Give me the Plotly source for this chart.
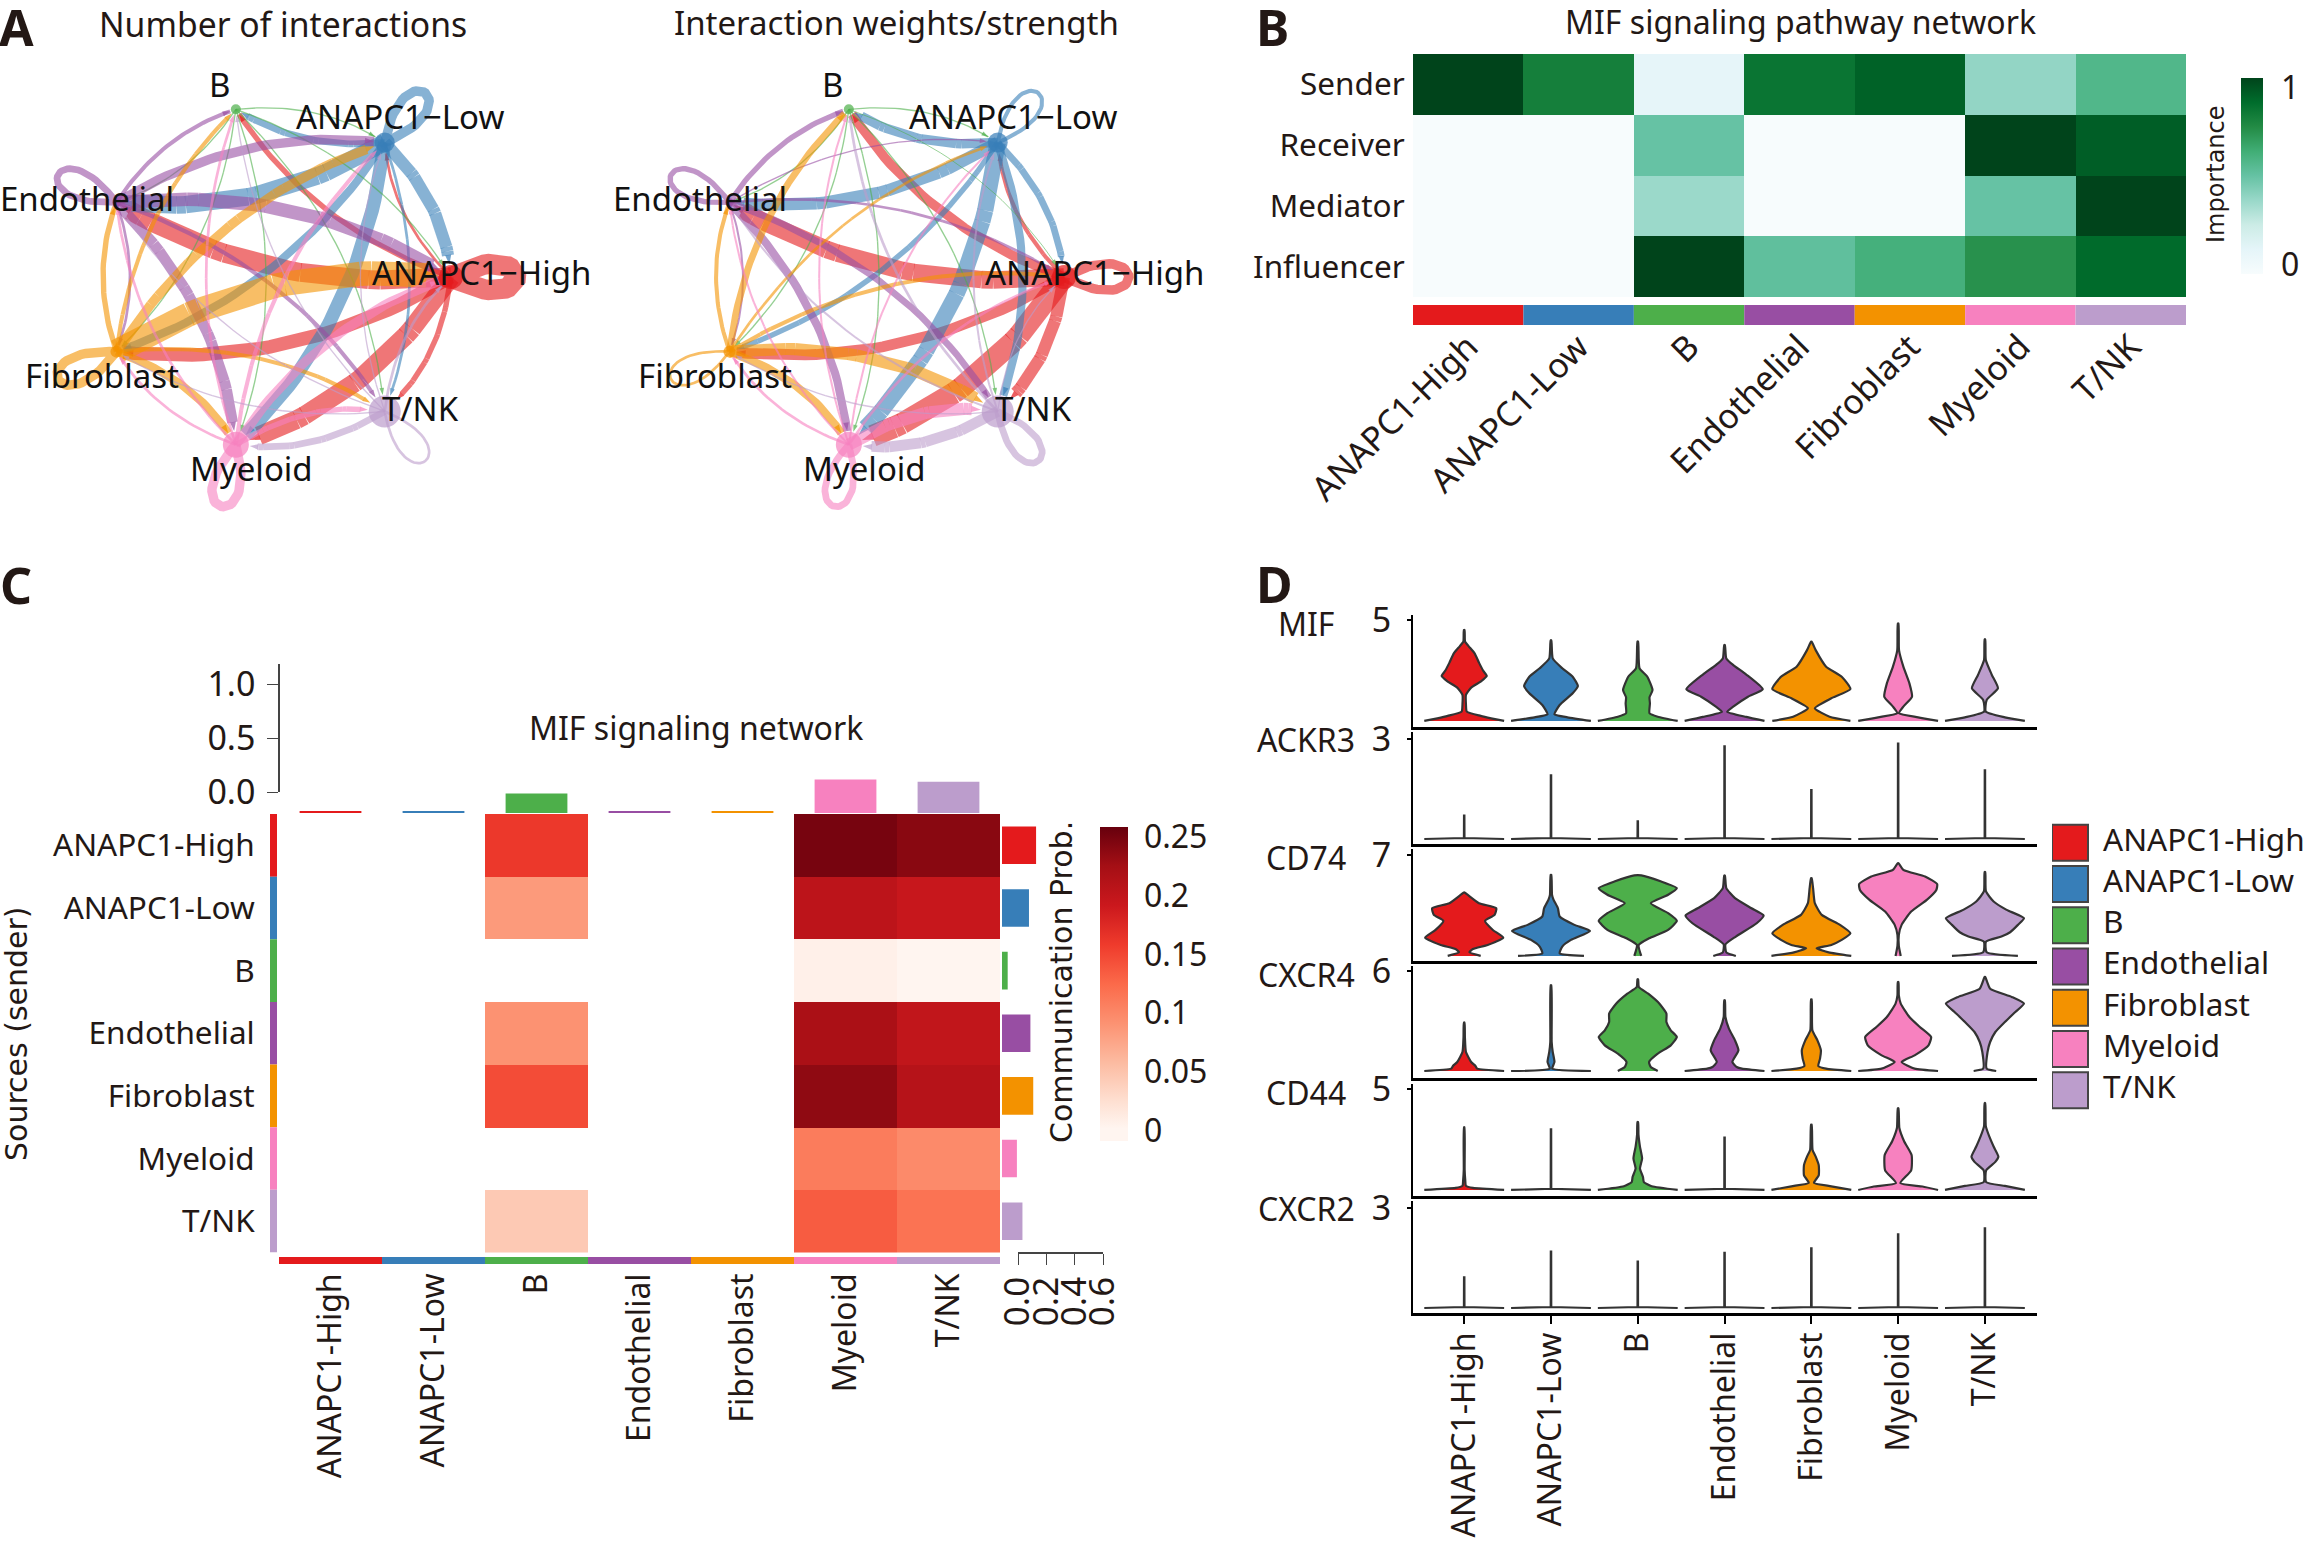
import math
import plotly.graph_objects as go

W, H = 2306, 1542
CELL_TYPES = ["ANAPC1-High", "ANAPC1-Low", "B", "Endothelial", "Fibroblast", "Myeloid", "T/NK"]
CELL_COLORS = ["#E41A1C", "#377EB8", "#4DAF4A", "#984EA3", "#F39200", "#F781BF", "#BC9DCC"]
NET_LABELS = ["ANAPC1\u2212High", "ANAPC1\u2212Low", "B", "Endothelial", "Fibroblast", "Myeloid", "T/NK"]

# Panel A: edge weight matrices (row = sender, column = receiver)
INTERACTION_COUNT = [
    [15, 2, 4, 14, 10, 14, 4],
    [9, 7, 5, 13, 6, 10, 2],
    [1, 1, 0, 1, 1, 1, 1],
    [10, 7, 3, 5, 2, 8, 3],
    [18, 7, 3, 4, 7, 6, 3],
    [7, 3, 2, 2, 2, 7, 4],
    [2, 1, 1, 1, 1, 5, 2],
]
INTERACTION_STRENGTH = [
    [7, 3, 7, 13, 8, 16, 9],
    [5, 3, 7, 9, 4, 12, 6],
    [0.7, 1, 0, 1, 1, 1, 1],
    [2, 1, 4, 4, 1.5, 6, 5],
    [3, 2, 5, 3, 2, 6, 9],
    [2, 1.5, 1.5, 1.5, 2, 5, 9],
    [1, 1.5, 2, 1.5, 1, 8, 5],
]
NODE_SIZE = [24, 20, 10, 8, 12, 26, 32]

# Panel B
ROLES = ["Sender", "Receiver", "Mediator", "Influencer"]
IMPORTANCE = [
    [1.0, 0.80, 0.12, 0.84, 0.91, 0.39, 0.57],
    [0.0, 0.0, 0.50, 0.0, 0.0, 1.0, 0.92],
    [0.0, 0.0, 0.37, 0.0, 0.0, 0.50, 1.0],
    [0.0, 0.0, 1.0, 0.52, 0.61, 0.73, 0.88],
]

# Panel C
COMM_PROB = [
    [None, None, 0.161, None, None, 0.250, 0.240],
    [None, None, 0.085, None, None, 0.205, 0.195],
    [None, None, None, None, None, 0.007, 0.000],
    [None, None, 0.091, None, None, 0.220, 0.200],
    [None, None, 0.146, None, None, 0.237, 0.210],
    [None, None, None, None, None, 0.110, 0.098],
    [None, None, 0.045, None, None, 0.135, 0.117],
]
INCOMING_TOTAL = [0.015, 0.015, 0.18, 0.015, 0.015, 0.31, 0.29]
OUTGOING_TOTAL = [0.24, 0.19, 0.04, 0.20, 0.22, 0.105, 0.144]

# Panel D: violin outlines per gene, per cell type, as (expression, half width)
MIF_VIOLINS = [
    [(0,.46),(.13,.31),(.25,.19),(.46,.03),(.83,.02),(1.29,.02),(1.65,.08),(1.95,.19),(2.23,.26),(2.48,.22),(2.89,.17),(3.35,.12),(3.71,.05),(3.93,.01),(4.5,.004)],
    [(0,.46),(.18,.19),(.33,.04),(.79,.1),(1.37,.25),(1.73,.31),(2.19,.25),(2.61,.13),(3.1,.02),(4.0,.004)],
    [(0,.46),(.21,.23),(.38,.135),(.87,.14),(1.17,.135),(1.53,.17),(2.19,.11),(2.61,.02),(3.93,.004)],
    [(0,.46),(.2,.25),(.46,.03),(.71,.1),(1.2,.27),(1.57,.44),(2.3,.25),(2.77,.1),(3.1,.02),(3.76,.004)],
    [(0,.45),(.21,.21),(.63,.04),(1.12,.23),(1.58,.45),(2.19,.35),(2.69,.17),(3.51,.05),(3.93,.004)],
    [(0,.46),(.18,.23),(.38,.01),(.71,.06),(1.2,.16),(1.86,.13),(2.69,.06),(3.51,.01),(4.83,.004)],
    [(0,.46),(.18,.23),(.46,.01),(1.04,.02),(1.62,.15),(2.28,.08),(3.02,.01),(4.04,.004)],
]
ACKR3_VIOLINS = [
    [(0,.46),(.015,.3),(.03,.003),(.70,.002)],
    [(0,.46),(.015,.3),(.03,.003),(1.90,.002)],
    [(0,.46),(.015,.3),(.03,.003),(.53,.002)],
    [(0,.46),(.015,.3),(.03,.003),(2.77,.002)],
    [(0,.46),(.015,.3),(.03,.003),(1.46,.002)],
    [(0,.46),(.015,.3),(.03,.003),(2.85,.002)],
    [(0,.46),(.015,.3),(.03,.003),(2.05,.002)],
]
CD74_VIOLINS = [
    [(0,.19),(.25,.06),(.48,.1),(.76,.27),(1.27,.45),(1.8,.33),(2.43,.24),(2.84,.35),(3.3,.37),(3.65,.17),(4.39,.004)],
    [(0,.38),(.18,.1),(.65,.13),(1.11,.23),(1.73,.45),(2.15,.27),(2.73,.1),(3.3,.08),(3.88,.03),(4.23,.012),(5.61,.004)],
    [(0,.04),(.76,.01),(1.22,.13),(1.8,.35),(2.43,.45),(2.96,.35),(3.65,.15),(4.23,.35),(4.69,.45),(5.15,.27),(5.57,.04)],
    [(0,.13),(.25,.02),(.8,.01),(1.34,.13),(2.26,.37),(2.8,.45),(3.3,.31),(4.0,.12),(4.69,.02),(5.57,.004)],
    [(0,.46),(.25,.2),(.53,.06),(.76,.23),(1.11,.35),(1.57,.45),(2.15,.33),(2.84,.12),(3.65,.04),(4.69,.02),(5.38,.004)],
    [(0,.03),(.7,.008),(1.46,.008),(2.15,.04),(3.07,.15),(3.88,.33),(4.57,.44),(4.97,.45),(5.5,.31),(5.96,.06),(6.42,.004)],
    [(0,.38),(.25,.02),(.99,.012),(1.34,.19),(1.64,.29),(2.15,.38),(2.61,.45),(3.19,.25),(3.77,.1),(4.46,.012),(5.8,.004)],
]
CXCR4_VIOLINS = [
    [(0,.46),(.14,.15),(.3,.13),(.54,.08),(1.14,.02),(2.04,.008),(2.9,.004)],
    [(0,.46),(.14,.015),(.54,.04),(1.14,.02),(1.74,.008),(5.14,.004)],
    [(0,.23),(.24,.15),(.54,.13),(1.04,.23),(1.54,.38),(2.04,.45),(2.44,.38),(2.94,.33),(3.44,.33),(4.04,.25),(4.64,.12),(5.04,.012),(5.5,.004)],
    [(0,.46),(.14,.2),(.24,.14),(.54,.09),(1.24,.16),(1.84,.12),(2.54,.05),(3.24,.01),(4.24,.004)],
    [(0,.46),(.14,.17),(.3,.08),(.74,.1),(1.24,.11),(1.84,.07),(2.44,.012),(4.3,.004)],
    [(0,.46),(.14,.19),(.54,.04),(.94,.19),(1.54,.35),(2.04,.38),(2.64,.25),(3.24,.13),(4.04,.03),(4.54,.008),(5.34,.004)],
    [(0,.13),(.14,.02),(1.14,.03),(1.74,.06),(2.34,.12),(2.94,.23),(3.54,.35),(4.04,.45),(4.44,.31),(4.94,.06),(5.64,.004)],
]
CD44_VIOLINS = [
    [(0,.46),(.1,.1),(.2,.02),(.5,.012),(1.0,.005),(3.1,.003)],
    [(0,.46),(.03,.2),(.06,.003),(3.0,.002)],
    [(0,.46),(.18,.16),(.39,.07),(.64,.06),(1.06,.025),(1.56,.05),(2.15,.025),(2.74,.008),(3.36,.004)],
    [(0,.46),(.03,.2),(.06,.003),(2.6,.002)],
    [(0,.46),(.18,.23),(.35,.03),(.72,.085),(1.23,.085),(1.65,.05),(1.98,.014),(3.24,.004)],
    [(0,.46),(.17,.28),(.34,.025),(.97,.15),(1.73,.155),(2.4,.07),(3.07,.014),(4.05,.004)],
    [(0,.46),(.2,.23),(.39,.014),(.97,.014),(1.39,.12),(1.65,.155),(2.15,.1),(2.65,.05),(3.16,.01),(4.3,.004)],
]
CXCR2_VIOLINS = [
    [(0,.46),(.015,.3),(.03,.003),(.92,.002)],
    [(0,.46),(.015,.3),(.03,.003),(1.69,.002)],
    [(0,.46),(.015,.3),(.03,.003),(1.39,.002)],
    [(0,.46),(.015,.3),(.03,.003),(1.65,.002)],
    [(0,.46),(.015,.3),(.03,.003),(1.78,.002)],
    [(0,.46),(.015,.3),(.03,.003),(2.20,.002)],
    [(0,.46),(.015,.3),(.03,.003),(2.38,.002)],
]
GENES = ["MIF", "ACKR3", "CD74", "CXCR4", "CD44", "CXCR2"]
GENE_TOP_TICK = [5, 3, 7, 6, 5, 3]
GENE_RANGES = [(-.3, 5.25), (-.15, 3.2), (-.35, 7.4), (-.42, 6.3), (-.3, 5.25), (-.15, 3.2)]
GENE_VIOLINS = [MIF_VIOLINS, ACKR3_VIOLINS, CD74_VIOLINS, CXCR4_VIOLINS, CD44_VIOLINS, CXCR2_VIOLINS]

FONT = "Noto Sans"
WIDE = "DejaVu Sans"
INK = "#231815"
EDGE_SCALE = 1.35


def fx(x):
    return x / W


def fy(y):
    return 1 - y / H


def rgba(hex_color, a):
    return "rgba(%d,%d,%d,%s)" % (int(hex_color[1:3], 16), int(hex_color[3:5], 16), int(hex_color[5:7], 16), a)


fig = go.Figure()
axis_n = [0]
layout_axes = {}
annotations = []


def new_axes(x_px, y_px, xopts=None, yopts=None):
    axis_n[0] += 1
    n = axis_n[0]
    sx = "" if n == 1 else str(n)
    base = dict(visible=False, fixedrange=True, showgrid=False, zeroline=False)
    xa = dict(base, domain=[fx(x_px[0]), fx(x_px[1])], anchor="y" + sx)
    ya = dict(base, domain=[fy(y_px[1]), fy(y_px[0])], anchor="x" + sx)
    xa.update(xopts or {})
    ya.update(yopts or {})
    layout_axes["xaxis" + sx] = xa
    layout_axes["yaxis" + sx] = ya
    return "x" + sx, "y" + sx


def note(x, y, text, size=32, font=FONT, angle=0, anchor="center", bold=False, color=INK):
    annotations.append(dict(
        x=fx(x), y=fy(y), xref="paper", yref="paper", text=("<b>%s</b>" % text) if bold else text,
        showarrow=False, textangle=angle, xanchor=anchor, yanchor="middle",
        font=dict(family=font, size=size, color=color)))


# ---------- Panel A ----------
def node_xy(i):
    a = 2 * math.pi * i / 7
    return math.cos(a), math.sin(a)


def network(matrix, dx):
    RX, RY = 176.0, 172.0
    x_ref, y_ref = new_axes((dx + 5, dx + 545), (37, 517),
                            dict(range=[-270 / RX, 270 / RX]), dict(range=[-240 / RY, 240 / RY]))
    n = 7
    for s in range(n):
        for t in range(n):
            w = matrix[s][t] * EDGE_SCALE
            if w <= 0:
                continue
            col = rgba(CELL_COLORS[s], 0.6)
            sx, sy = node_xy(s)
            if s == t:
                ang = math.atan2(sy, sx)
                d, spread = 0.56, 0.5
                c1 = (sx + d * math.cos(ang + spread), sy + d * math.sin(ang + spread))
                c2 = (sx + d * math.cos(ang - spread), sy + d * math.sin(ang - spread))
                xs, ys = [], []
                for k in range(41):
                    u = k / 40
                    b0, b1, b2, b3 = (1 - u) ** 3, 3 * u * (1 - u) ** 2, 3 * u * u * (1 - u), u ** 3
                    xs.append((b0 + b3) * sx + b1 * c1[0] + b2 * c2[0])
                    ys.append((b0 + b3) * sy + b1 * c1[1] + b2 * c2[1])
                fig.add_trace(go.Scatter(x=xs, y=ys, xaxis=x_ref, yaxis=y_ref, mode="lines",
                                         line=dict(color=col, width=w), hoverinfo="skip", showlegend=False))
                continue
            tx, ty = node_xy(t)
            ex, ey = tx - sx, ty - sy
            # bend to the left of the direction of travel
            cx = (sx + tx) / 2 - ey * 0.17
            cy = (sy + ty) / 2 + ex * 0.17
            gx, gy = tx - cx, ty - cy
            gd = math.hypot(gx, gy)
            r = (NODE_SIZE[t] / 2 + 1) / RX
            qx, qy = tx - gx / gd * r, ty - gy / gd * r
            xs, ys = [], []
            steps = 30
            for k in range(steps + 1):
                u = k / steps
                xs.append((1 - u) ** 2 * sx + 2 * u * (1 - u) * cx + u * u * qx)
                ys.append((1 - u) ** 2 * sy + 2 * u * (1 - u) * cy + u * u * qy)
            fig.add_trace(go.Scatter(
                x=xs, y=ys, xaxis=x_ref, yaxis=y_ref, mode="lines+markers",
                line=dict(color=col, width=w),
                marker=dict(symbol="arrow", angleref="previous", color=CELL_COLORS[s],
                            size=[0] * steps + [7 + w * 0.25], line=dict(width=0)),
                hoverinfo="skip", showlegend=False))
    pts = [node_xy(i) for i in range(n)]
    fig.add_trace(go.Scatter(x=[p[0] for p in pts], y=[p[1] for p in pts], xaxis=x_ref, yaxis=y_ref,
                             mode="markers", marker=dict(color=CELL_COLORS, size=NODE_SIZE, line=dict(width=0)),
                             hoverinfo="skip", showlegend=False))
    shifts = [(30, -5), (15, -26), (-16, -25), (-29, -4), (-14, 24), (16, 24), (36, -3)]
    for i, lab in enumerate(NET_LABELS):
        annotations.append(dict(x=pts[i][0], y=pts[i][1], xref=x_ref, yref=y_ref, text=lab, showarrow=False,
                                xshift=shifts[i][0], yshift=-shifts[i][1],
                                font=dict(family=FONT, size=33, color="#111111")))


network(INTERACTION_COUNT, 0)
network(INTERACTION_STRENGTH, 613)
note(283, 24, "Number of interactions", 33.7)
note(896, 23, "Interaction weights/strength", 33)

# ---------- Panel B ----------
BUGN = [[0, "#F7FCFD"], [.125, "#E5F5F9"], [.25, "#CCECE6"], [.375, "#99D8C9"], [.5, "#66C2A4"],
        [.625, "#41AE76"], [.75, "#238B45"], [.875, "#006D2C"], [1, "#00441B"]]
x_ref, y_ref = new_axes((1413, 2186), (54, 297),
                        dict(type="category", range=[-.5, 6.5]),
                        dict(visible=True, type="category", range=[3.5, -.5], showline=False, ticks="outside",
                             ticklen=1, tickcolor="rgba(0,0,0,0)", tickfont=dict(family=FONT, size=31.5, color=INK)))
fig.add_trace(go.Heatmap(z=IMPORTANCE, x=CELL_TYPES, y=ROLES, xaxis=x_ref, yaxis=y_ref, zmin=0, zmax=1,
                         colorscale=BUGN, hoverinfo="skip",
                         colorbar=dict(x=fx(2241), xanchor="left", xpad=0, y=fy(274), yanchor="bottom", ypad=0,
                                       len=196 / H, thickness=22, outlinewidth=0,
                                       tickvals=[.046, .949], ticktext=["0", "1"], ticks="outside", ticklen=12,
                                       tickcolor="rgba(0,0,0,0)", tickfont=dict(family=FONT, size=32, color=INK))))
x_ref, y_ref = new_axes((1413, 2186), (305, 325),
                        dict(visible=True, type="category", range=[-.5, 6.5], ticks="", showline=False, tickangle=-45,
                             ticklabelstandoff=-6, tickfont=dict(family=FONT, size=34, color=INK)),
                        dict(range=[0, 1]))
fig.add_trace(go.Bar(x=CELL_TYPES, y=[1] * 7, width=1, xaxis=x_ref, yaxis=y_ref, marker=dict(color=CELL_COLORS, line=dict(width=0)),
                     hoverinfo="skip", showlegend=False))
note(1800, 22, "MIF signaling pathway network", 32)
note(2216, 174, "Importance", 24, WIDE, -90)

# ---------- Panel C ----------
REDS = [[0, "#FFF5F0"], [.04, "#FFF5F0"], [.125, "#FEE0D2"], [.25, "#FCBBA1"], [.375, "#FC9272"], [.5, "#FB6A4A"],
        [.625, "#EF3B2C"], [.75, "#CB181D"], [.875, "#A50F15"], [1, "#67000D"]]
x_ref, y_ref = new_axes((279, 1000), (814, 1252.5),
                        dict(type="category", range=[-.5, 6.5]),
                        dict(visible=True, type="category", range=[6.5, -.5], ticks="outside", ticklen=17,
                             tickcolor="rgba(0,0,0,0)", showline=False, tickfont=dict(family=FONT, size=31.5, color=INK)))
fig.add_trace(go.Heatmap(z=COMM_PROB, x=CELL_TYPES, y=CELL_TYPES, xaxis=x_ref, yaxis=y_ref, zmin=-.009, zmax=.2585,
                         colorscale=REDS, hoverinfo="skip", hoverongaps=False,
                         colorbar=dict(x=fx(1100), xanchor="left", xpad=0, y=fy(1141), yanchor="bottom", ypad=0,
                                       len=314 / H, thickness=28, outlinewidth=0,
                                       tickvals=[0, .05, .1, .15, .2, .25], ticktext=["0", "0.05", "0.1", "0.15", "0.2", "0.25"],
                                       ticks="outside", ticklen=10, tickcolor="rgba(0,0,0,0)",
                                       tickfont=dict(family=FONT, size=32, color=INK))))
# left strip
x_ref, y_ref = new_axes((270, 277), (814, 1252.5), dict(range=[0, 1]),
                        dict(type="category", range=[6.5, -.5]))
fig.add_trace(go.Bar(y=CELL_TYPES, x=[1] * 7, width=1, orientation="h", xaxis=x_ref, yaxis=y_ref,
                     marker=dict(color=CELL_COLORS, line=dict(width=0)), hoverinfo="skip", showlegend=False))
# bottom strip with labels
x_ref, y_ref = new_axes((279, 1000), (1257, 1264),
                        dict(visible=True, type="category", range=[-.5, 6.5], showline=False, ticks="", ticklabelstandoff=2,
                             tickangle=-90, tickfont=dict(family=FONT, size=32, color=INK)),
                        dict(range=[0, 1]))
fig.add_trace(go.Bar(x=CELL_TYPES, y=[1] * 7, width=1, xaxis=x_ref, yaxis=y_ref,
                     marker=dict(color=CELL_COLORS, line=dict(width=0)), hoverinfo="skip", showlegend=False))
# top bars
x_ref, y_ref = new_axes((279, 1000), (664, 813), dict(type="category", range=[-.5, 6.5]),
                        dict(range=[0, 149 / 108]))
fig.add_trace(go.Bar(x=CELL_TYPES, y=INCOMING_TOTAL, width=.6, xaxis=x_ref, yaxis=y_ref,
                     marker=dict(color=CELL_COLORS, line=dict(width=0)), hoverinfo="skip", showlegend=False))
# top axis (visible scale)
x_ref, y_ref = new_axes((280, 286), (664, 792), dict(range=[0, 1]),
                        dict(visible=True, range=[0, 128 / 108], tickvals=[0, .5, 1], ticktext=["0.0", "0.5", "1.0"],
                             showline=True, linecolor="#444444", linewidth=1.5, ticks="outside", ticklen=11,
                             tickcolor="#444444", ticklabelstandoff=5,
                             tickfont=dict(family=FONT, size=34, color=INK)))
fig.add_trace(go.Scatter(x=[0, 0], y=[0, 1], xaxis=x_ref, yaxis=y_ref, mode="markers", marker=dict(opacity=0),
                         hoverinfo="skip", showlegend=False))
# right bars
x_ref, y_ref = new_axes((1002, 1102), (814, 1252.5), dict(range=[0, 100 / 142]),
                        dict(type="category", range=[6.5, -.5]))
fig.add_trace(go.Bar(y=CELL_TYPES, x=OUTGOING_TOTAL, width=.6, orientation="h", xaxis=x_ref, yaxis=y_ref,
                     marker=dict(color=CELL_COLORS, line=dict(width=0)), hoverinfo="skip", showlegend=False))
# right axis (visible scale)
x_ref, y_ref = new_axes((1018, 1103), (1246, 1252),
                        dict(visible=True, range=[0, .6], tickvals=[0, .2, .4, .6], ticktext=["0.0", "0.2", "0.4", "0.6"],
                             showline=True, linecolor="#444444", linewidth=1.5, ticks="outside", ticklen=11,
                             tickcolor="#444444", tickangle=-90, ticklabelstandoff=-2,
                             tickfont=dict(family=FONT, size=35, color=INK)),
                        dict(range=[0, 1]))
fig.add_trace(go.Scatter(x=[0, .6], y=[0, 0], xaxis=x_ref, yaxis=y_ref, mode="markers", marker=dict(opacity=0),
                         hoverinfo="skip", showlegend=False))
note(696, 727, "MIF signaling network", 32)
note(16, 1034, "Sources (sender)", 30, WIDE, -90)
note(1062, 982, "Communication Prob.", 30, WIDE, -90)

# ---------- Panel D ----------
ROW_TOPS = [615, 732, 849, 966, 1084, 1201]
GENE_LABEL_Y = [623, 739, 857, 974, 1092, 1208]
for r, gene in enumerate(GENES):
    last = r == len(GENES) - 1
    xopts = dict(visible=True, range=[-.59, 6.6], showline=True, linecolor="black", linewidth=2.5,
                 tickvals=list(range(7)), ticktext=CELL_TYPES if last else [""] * 7)
    if last:
        xopts.update(ticks="outside", ticklen=8, tickcolor="black", tickwidth=2, tickangle=-90, ticklabelstandoff=-4,
                     tickfont=dict(family=FONT, size=32, color=INK))
    else:
        xopts.update(ticks="")
    x_ref, y_ref = new_axes((1413, 2037), (ROW_TOPS[r], ROW_TOPS[r] + 112), xopts,
                            dict(visible=True, range=list(GENE_RANGES[r]), showline=True, linecolor="black", linewidth=2,
                                 tickvals=[GENE_TOP_TICK[r]], ticks="outside", ticklen=4, tickcolor="black", tickwidth=2,
                                 ticklabelstandoff=9, tickfont=dict(family=FONT, size=34, color=INK)))
    for c, prof in enumerate(GENE_VIOLINS[r]):
        ys = [p[0] for p in prof] + [p[0] for p in reversed(prof)]
        xs = [c - p[1] for p in prof] + [c + p[1] for p in reversed(prof)]
        outline = dict(color="#333333", width=2.2, shape="spline", smoothing=0.5)
        if len(prof) <= 4:
            outline = dict(color="#333333", width=2.2, shape="linear")
        fig.add_trace(go.Scatter(x=xs, y=ys, xaxis=x_ref, yaxis=y_ref, mode="lines", fill="toself",
                                 fillcolor=CELL_COLORS[c], line=outline,
                                 hoverinfo="skip", showlegend=False))
    note(1306, GENE_LABEL_Y[r], gene, 32)

x_ref, y_ref = new_axes((2052, 2306), (822, 1111), dict(range=[0, 254]),
                        dict(type="category", range=[6.5, -.5]))
fig.add_trace(go.Scatter(x=[18] * 7, y=CELL_TYPES, xaxis=x_ref, yaxis=y_ref, mode="markers",
                         marker=dict(symbol="square", size=36, color=CELL_COLORS, line=dict(color="#444444", width=2)),
                         hoverinfo="skip", showlegend=False))
fig.add_trace(go.Scatter(x=[51] * 7, y=CELL_TYPES, xaxis=x_ref, yaxis=y_ref, mode="text", text=CELL_TYPES,
                         textposition="middle right", textfont=dict(family=FONT, size=31.5, color=INK),
                         cliponaxis=False, hoverinfo="skip", showlegend=False))

# Panel letters
for letter, lx, ly in [("A", 16, 27), ("B", 1272, 27), ("C", 16, 585), ("D", 1274, 584)]:
    note(lx, ly, letter, 50, FONT, bold=True, color=INK)

fig.update_layout(width=W, height=H, margin=dict(l=0, r=0, t=0, b=0, autoexpand=False), paper_bgcolor="white", plot_bgcolor="white",
                  showlegend=False, barmode="overlay", annotations=annotations, **layout_axes)
fig.write_html("out.html", config=dict(displayModeBar=False),
               post_script="document.body.style.margin='0';document.documentElement.style.overflow='hidden';")
